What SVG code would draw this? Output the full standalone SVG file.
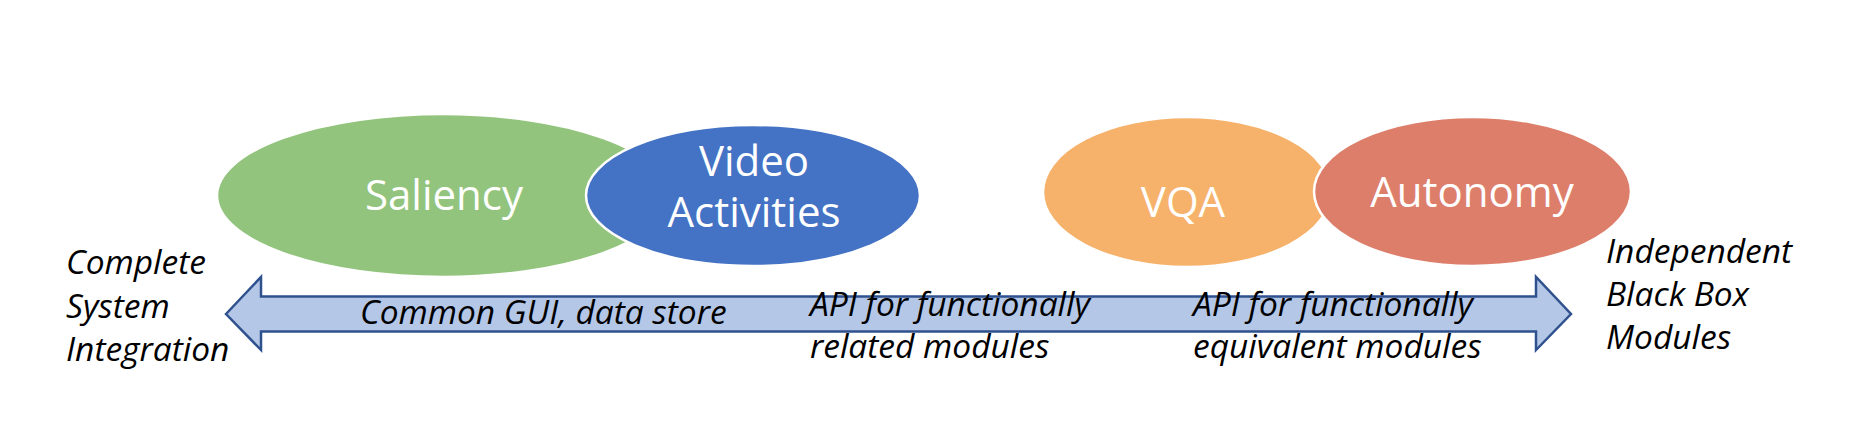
<svg xmlns="http://www.w3.org/2000/svg" width="1858" height="448" viewBox="0 0 1858 448">
<style>
.node{stroke:#ffffff;stroke-width:2.5}
.lbl{font-family:"Open Sans","Liberation Sans",sans-serif;font-size:42px;fill:#ffffff;text-anchor:middle}
.it{font-family:"Open Sans","Liberation Sans",sans-serif;font-size:33.5px;font-style:italic;fill:#000000}
</style>
<rect width="1858" height="448" fill="#ffffff"/>
<g id="connectors">
<polygon points="226,314 261,277 261,296.5 1536,296.5 1536,277 1571,314 1536,350 1536,331.5 261,331.5 261,350" fill="#b4c7e7" stroke="#2f528f" stroke-width="2.5" stroke-linejoin="miter"/>
</g>
<g id="saliency">
<ellipse class="node" cx="443" cy="195.5" rx="226" ry="81.5" fill="#93c47d"/>
<text class="lbl" x="444" y="210">Saliency</text>
</g>
<g id="video-activities">
<ellipse class="node" cx="753" cy="195.5" rx="167" ry="70.5" fill="#4472c4"/>
<text class="lbl"><tspan x="754" y="176">Video</tspan><tspan x="754" y="227">Activities</tspan></text>
</g>
<g id="vqa">
<ellipse class="node" cx="1187" cy="192" rx="144" ry="75" fill="#f6b26b"/>
<text class="lbl" x="1183" y="217">VQA</text>
</g>
<g id="autonomy">
<ellipse class="node" cx="1472.5" cy="191.5" rx="158.5" ry="74.5" fill="#dd7e6b"/>
<text class="lbl" x="1472" y="207">Autonomy</text>
</g>
<g id="left-label">
<text class="it"><tspan x="66" y="274">Complete</tspan><tspan x="66" y="318">System</tspan><tspan x="66" y="361">Integration</tspan></text>
</g>
<g id="right-label">
<text class="it"><tspan x="1606" y="263">Independent</tspan><tspan x="1606" y="306">Black Box</tspan><tspan x="1606" y="349">Modules</tspan></text>
</g>
<g id="arrow-labels">
<text class="it" x="360" y="324">Common GUI, data store</text>
<text class="it"><tspan x="810" y="316">API for functionally</tspan><tspan x="810" y="358">related modules</tspan></text>
<text class="it"><tspan x="1193" y="316">API for functionally</tspan><tspan x="1193" y="358">equivalent modules</tspan></text>
</g>
</svg>
